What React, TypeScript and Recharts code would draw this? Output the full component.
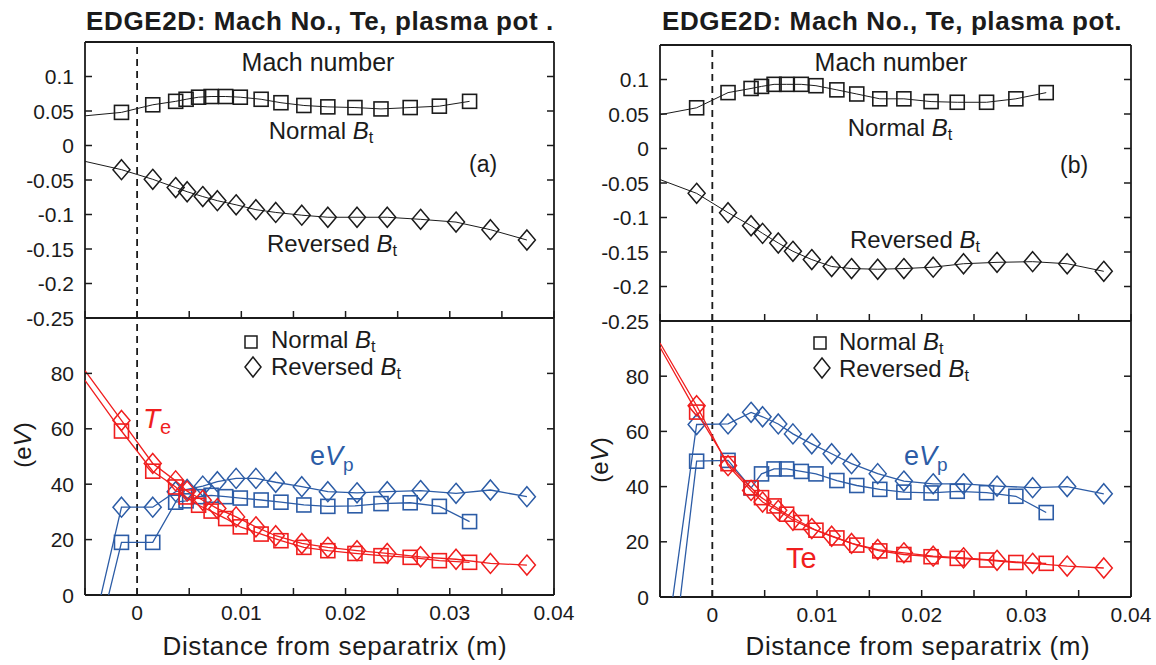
import React from "react";
import { ScatterChart, Scatter, XAxis, YAxis, ReferenceLine } from "recharts";

// grid positions (m from separatrix); the first entry is where the curves leave the left edge
const xNormal = [-0.005, -0.0015, 0.0015, 0.0037, 0.0047, 0.0059, 0.0071, 0.0085, 0.0099, 0.0119, 0.0138, 0.016, 0.0183, 0.0209, 0.0234, 0.0262, 0.029, 0.0319];
const xReversed = [-0.005, -0.0015, 0.0015, 0.0037, 0.0048, 0.0063, 0.0077, 0.0095, 0.0114, 0.0133, 0.0158, 0.0183, 0.0211, 0.024, 0.0272, 0.0306, 0.0339, 0.0374];

// panel (a)
const machNormalA = [0.043, 0.048, 0.059, 0.064, 0.067, 0.07, 0.071, 0.071, 0.07, 0.067, 0.062, 0.058, 0.056, 0.055, 0.053, 0.055, 0.057, 0.064];
const machReversedA = [-0.023, -0.035, -0.049, -0.061, -0.067, -0.074, -0.08, -0.086, -0.093, -0.097, -0.101, -0.104, -0.104, -0.104, -0.107, -0.111, -0.122, -0.137];
const teNormalA = [77.5, 59.2, 44.7, 39, 35.4, 32.4, 30.3, 27.6, 24.6, 22, 19.6, 17.2, 16, 15, 14.2, 13.6, 12.4, 11.8];
const teReversedA = [81, 63, 47.5, 41.2, 37.5, 34.2, 31.2, 28.2, 24.6, 21.4, 18.6, 17.2, 16, 15, 13.8, 12.9, 11.4, 10.8];
const vpNormalA = [-35, 19, 19, 33.5, 34, 35.5, 36, 35.5, 35, 34.3, 33.5, 32.5, 32, 32.2, 33, 33.3, 32, 26.5];
const vpReversedA = [-25, 31.7, 31.7, 37.3, 38.1, 39.3, 40.9, 42.1, 42.1, 40.7, 39.1, 37.3, 36.9, 37.3, 37.7, 36.7, 37.9, 35.5];

// panel (b)
const machNormalB = [0.049, 0.059, 0.081, 0.087, 0.09, 0.093, 0.093, 0.093, 0.091, 0.085, 0.079, 0.072, 0.072, 0.068, 0.067, 0.067, 0.072, 0.081];
const machReversedB = [-0.045, -0.065, -0.093, -0.112, -0.123, -0.137, -0.149, -0.161, -0.171, -0.174, -0.175, -0.174, -0.172, -0.167, -0.165, -0.164, -0.167, -0.178];
const teNormalB = [90.5, 67, 48.3, 39.6, 36, 33, 30, 27, 24.2, 21.4, 18.8, 16.7, 15.4, 14.6, 14, 13.4, 12.5, 12.2];
const teReversedB = [92, 69.3, 47.6, 38.6, 34.4, 31.4, 27.8, 24.8, 22, 19.4, 17.2, 16, 14.8, 14.2, 13.3, 12.2, 11.2, 10.5];
const vpNormalB = [-62, 49.2, 49.5, 39.5, 44.6, 46.4, 46.4, 45.5, 44.6, 42.2, 40.4, 39, 38, 37.7, 38.3, 37.8, 36.5, 30.6];
const vpReversedB = [-34, 62.5, 62.7, 66.9, 65.3, 62.7, 59.1, 55.5, 51.9, 48.3, 44.7, 42, 41, 41, 40.2, 39.6, 40, 37.4];

// axes
const X_MIN = -0.005;
const X_MAX = 0.04;
const xTicks = [-0.005, 0, 0.005, 0.01, 0.015, 0.02, 0.025, 0.03, 0.035, 0.04];
const xTickLabels = ["", "0", "", "0.01", "", "0.02", "", "0.03", "", "0.04"];
const machTicks = [-0.25, -0.2, -0.15, -0.1, -0.05, 0, 0.05, 0.1, 0.15];
const machTickLabels = ["-0.25", "-0.2", "-0.15", "-0.1", "-0.05", "0", "0.05", "0.1", ""];
const evTicks = [0, 20, 40, 60, 80, 100];
const evTickLabels = ["0", "20", "40", "60", "80", ""];

const FONT = '"Liberation Sans", Arial, Helvetica, sans-serif';
const INK = "#1b1b1b";
const RED = "#f01e1e";
const BLUE = "#2c5ca6";
const TICK = 7;

const pts = (xs: number[], ys: number[]) => xs.map((x, i) => ({ x, y: ys[i] }));

const labelFor = (ticks: number[], labels: string[] | null, v: number) => {
  if (!labels) return "";
  const i = ticks.findIndex((t) => Math.abs(t - v) < 1e-9);
  return i >= 0 ? labels[i] : "";
};

const squareShape = (color: string) => (p: any) =>
  p.payload && p.payload.x <= X_MIN ? <g /> : (
    <rect x={p.cx - 7} y={p.cy - 7} width={14} height={14} fill="none" stroke={color} strokeWidth={1.6} />
  );

const diamondShape = (color: string) => (p: any) =>
  p.payload && p.payload.x <= X_MIN ? <g /> : (
    <path
      d={`M${p.cx},${p.cy - 10}L${p.cx + 8.5},${p.cy}L${p.cx},${p.cy + 10}L${p.cx - 8.5},${p.cy}Z`}
      fill="none"
      stroke={color}
      strokeWidth={1.5}
    />
  );

// ticks point into the plot box on all four sides, gnuplot style
const BottomTick = (p: any) => {
  const lab = labelFor(xTicks, p.labels, p.payload.value);
  return (
    <g>
      <line x1={p.x} y1={p.y} x2={p.x} y2={p.y - TICK} stroke={INK} strokeWidth={1.5} />
      {lab && (
        <text x={p.x} y={p.y + 25} textAnchor="middle" fontSize={21} fontFamily={FONT} fill={INK}>
          {lab}
        </text>
      )}
    </g>
  );
};

const TopTick = (p: any) => <line x1={p.x} y1={p.y} x2={p.x} y2={p.y + TICK} stroke={INK} strokeWidth={1.5} />;

const LeftTick = (p: any) => {
  const lab = labelFor(p.ticks, p.labels, p.payload.value);
  return (
    <g>
      <line x1={p.x} y1={p.y} x2={p.x + TICK} y2={p.y} stroke={INK} strokeWidth={1.5} />
      {lab && (
        <text x={p.x - 11} y={p.y + 7.5} textAnchor="end" fontSize={21} fontFamily={FONT} fill={INK}>
          {lab}
        </text>
      )}
    </g>
  );
};

const RightTick = (p: any) => <line x1={p.x} y1={p.y} x2={p.x - TICK} y2={p.y} stroke={INK} strokeWidth={1.5} />;

type Series = { data: { x: number; y: number }[]; color: string; marker: "square" | "diamond"; width: number };
type Box = { x: number; y: number; w: number; h: number };

function Plot(props: { box: Box; domain: number[]; ticks: number[]; labels: string[]; xLabels: string[] | null; series: Series[] }) {
  const { box, domain, ticks, labels, xLabels, series } = props;
  const L = 70, R = 10, PAD = 25, T = 10, B = 40;
  const frame = { stroke: INK, strokeWidth: 1.8 };
  return (
    <div style={{ position: "absolute", left: box.x - L, top: box.y - T }}>
      <ScatterChart width={box.w + L + R + PAD} height={box.h + T + B} margin={{ top: 0, right: PAD, bottom: 0, left: 0 }}>
        <XAxis
          xAxisId={0}
          dataKey="x"
          type="number"
          orientation="bottom"
          height={B}
          domain={[X_MIN, X_MAX]}
          ticks={xTicks}
          interval={0}
          allowDataOverflow
          tickSize={0}
          tickMargin={0}
          tickLine={false}
          axisLine={frame}
          tick={(p: any) => <BottomTick {...p} labels={xLabels} />}
        />
        <XAxis
          xAxisId="top"
          type="number"
          orientation="top"
          height={T}
          domain={[X_MIN, X_MAX]}
          ticks={xTicks}
          interval={0}
          allowDataOverflow
          tickSize={0}
          tickMargin={0}
          tickLine={false}
          axisLine={frame}
          tick={(p: any) => <TopTick {...p} />}
        />
        <YAxis
          yAxisId={0}
          dataKey="y"
          type="number"
          orientation="left"
          width={L}
          domain={domain}
          ticks={ticks}
          interval={0}
          allowDataOverflow
          tickSize={0}
          tickMargin={0}
          tickLine={false}
          axisLine={frame}
          tick={(p: any) => <LeftTick {...p} ticks={ticks} labels={labels} />}
        />
        <YAxis
          yAxisId="right"
          type="number"
          orientation="right"
          width={R}
          domain={domain}
          ticks={ticks}
          interval={0}
          allowDataOverflow
          tickSize={0}
          tickMargin={0}
          tickLine={false}
          axisLine={frame}
          tick={(p: any) => <RightTick {...p} />}
        />
        <ReferenceLine x={0} stroke={INK} strokeWidth={1.8} strokeDasharray="7 5" />
        {series.map((s, i) => (
          <Scatter
            key={i}
            data={s.data}
            line={{ stroke: s.color, strokeWidth: s.width }}
            shape={s.marker === "square" ? squareShape(s.color) : diamondShape(s.color)}
            isAnimationActive={false}
          />
        ))}
      </ScatterChart>
    </div>
  );
}

const Bt = ({ size }: { size: number }) => (
  <>
    <tspan fontStyle="italic">B</tspan>
    <tspan fontSize={size * 0.68} dy={size * 0.18}>t</tspan>
  </>
);

function Annotations() {
  const txt = { fontFamily: FONT, fill: INK };
  return (
    <svg width={1156} height={665} style={{ position: "absolute", left: 0, top: 0, pointerEvents: "none" }}>
      {/* titles */}
      <text x={320} y={30} textAnchor="middle" fontSize={26} fontWeight="bold" letterSpacing={0.6} {...txt}>
        EDGE2D: Mach No., Te, plasma pot .
      </text>
      <text x={892} y={30} textAnchor="middle" fontSize={26} fontWeight="bold" letterSpacing={0.6} {...txt}>
        EDGE2D: Mach No., Te, plasma pot.
      </text>

      {/* panel (a) */}
      <text x={318} y={71} textAnchor="middle" fontSize={25} {...txt}>Mach number</text>
      <text x={321} y={139} textAnchor="middle" fontSize={24} {...txt}>Normal <Bt size={24} /></text>
      <text x={469} y={172} fontSize={23} {...txt}>(a)</text>
      <text x={332} y={252} textAnchor="middle" fontSize={24} {...txt}>Reversed <Bt size={24} /></text>
      <rect x={245} y={336} width={12} height={12} fill="none" stroke={INK} strokeWidth={1.5} />
      <text x={271} y={348} fontSize={24} {...txt}>Normal <Bt size={24} /></text>
      <path d="M253,357L261,367L253,377L245,367Z" fill="none" stroke={INK} strokeWidth={1.5} />
      <text x={271} y={375} fontSize={24} {...txt}>Reversed <Bt size={24} /></text>
      <text x={143} y={428} fontSize={28} fontFamily={FONT} fill={RED}>
        <tspan fontStyle="italic">T</tspan>
        <tspan fontSize={20} dy={6}>e</tspan>
      </text>
      <text x={310} y={465} fontSize={27} fontFamily={FONT} fill={BLUE}>
        e<tspan fontStyle="italic">V</tspan>
        <tspan fontSize={19} dy={6}>p</tspan>
      </text>
      <text x={22} y={445} transform="rotate(-90 22 445)" textAnchor="middle" dominantBaseline="central" fontSize={24} {...txt}>
        (e<tspan fontStyle="italic">V</tspan>)
      </text>
      <text x={335} y={655} textAnchor="middle" fontSize={26} letterSpacing={0.6} {...txt}>Distance from separatrix (m)</text>

      {/* panel (b) */}
      <text x={891} y={71} textAnchor="middle" fontSize={25} {...txt}>Mach number</text>
      <text x={900} y={136} textAnchor="middle" fontSize={24} {...txt}>Normal <Bt size={24} /></text>
      <text x={1060} y={173} fontSize={23} {...txt}>(b)</text>
      <text x={915} y={248} textAnchor="middle" fontSize={24} {...txt}>Reversed <Bt size={24} /></text>
      <rect x={814} y={337} width={12} height={12} fill="none" stroke={INK} strokeWidth={1.5} />
      <text x={839} y={350} fontSize={24} {...txt}>Normal <Bt size={24} /></text>
      <path d="M822,358L830,368L822,378L814,368Z" fill="none" stroke={INK} strokeWidth={1.5} />
      <text x={839} y={377} fontSize={24} {...txt}>Reversed <Bt size={24} /></text>
      <text x={904} y={465} fontSize={27} fontFamily={FONT} fill={BLUE}>
        e<tspan fontStyle="italic">V</tspan>
        <tspan fontSize={19} dy={6}>p</tspan>
      </text>
      <text x={786} y={568} fontSize={29} fontFamily={FONT} fill={RED}>Te</text>
      <text x={599} y={460} transform="rotate(-90 599 460)" textAnchor="middle" dominantBaseline="central" fontSize={24} {...txt}>
        (e<tspan fontStyle="italic">V</tspan>)
      </text>
      <text x={918} y={655} textAnchor="middle" fontSize={26} letterSpacing={0.6} {...txt}>Distance from separatrix (m)</text>
    </svg>
  );
}

export default function App() {
  const machA: Series[] = [
    { data: pts(xNormal, machNormalA), color: INK, marker: "square", width: 1 },
    { data: pts(xReversed, machReversedA), color: INK, marker: "diamond", width: 1 },
  ];
  const evA: Series[] = [
    { data: pts(xNormal, vpNormalA), color: BLUE, marker: "square", width: 1.3 },
    { data: pts(xReversed, vpReversedA), color: BLUE, marker: "diamond", width: 1.3 },
    { data: pts(xNormal, teNormalA), color: RED, marker: "square", width: 1.3 },
    { data: pts(xReversed, teReversedA), color: RED, marker: "diamond", width: 1.3 },
  ];
  const machB: Series[] = [
    { data: pts(xNormal, machNormalB), color: INK, marker: "square", width: 1 },
    { data: pts(xReversed, machReversedB), color: INK, marker: "diamond", width: 1 },
  ];
  const evB: Series[] = [
    { data: pts(xNormal, vpNormalB), color: BLUE, marker: "square", width: 1.3 },
    { data: pts(xReversed, vpReversedB), color: BLUE, marker: "diamond", width: 1.3 },
    { data: pts(xNormal, teNormalB), color: RED, marker: "square", width: 1.3 },
    { data: pts(xReversed, teReversedB), color: RED, marker: "diamond", width: 1.3 },
  ];

  return (
    <div style={{ position: "absolute", left: 0, top: 0, width: 1156, height: 665, background: "#fff", fontFamily: FONT }}>
      <Plot box={{ x: 85, y: 42, w: 469, h: 276 }} domain={[-0.25, 0.15]} ticks={machTicks} labels={machTickLabels} xLabels={null} series={machA} />
      <Plot box={{ x: 85, y: 318, w: 469, h: 277 }} domain={[0, 100]} ticks={evTicks} labels={evTickLabels} xLabels={xTickLabels} series={evA} />
      <Plot box={{ x: 660, y: 45, w: 471, h: 276 }} domain={[-0.25, 0.15]} ticks={machTicks} labels={machTickLabels} xLabels={null} series={machB} />
      <Plot box={{ x: 660, y: 321, w: 471, h: 276 }} domain={[0, 100]} ticks={evTicks} labels={evTickLabels} xLabels={xTickLabels} series={evB} />
      <Annotations />
    </div>
  );
}
